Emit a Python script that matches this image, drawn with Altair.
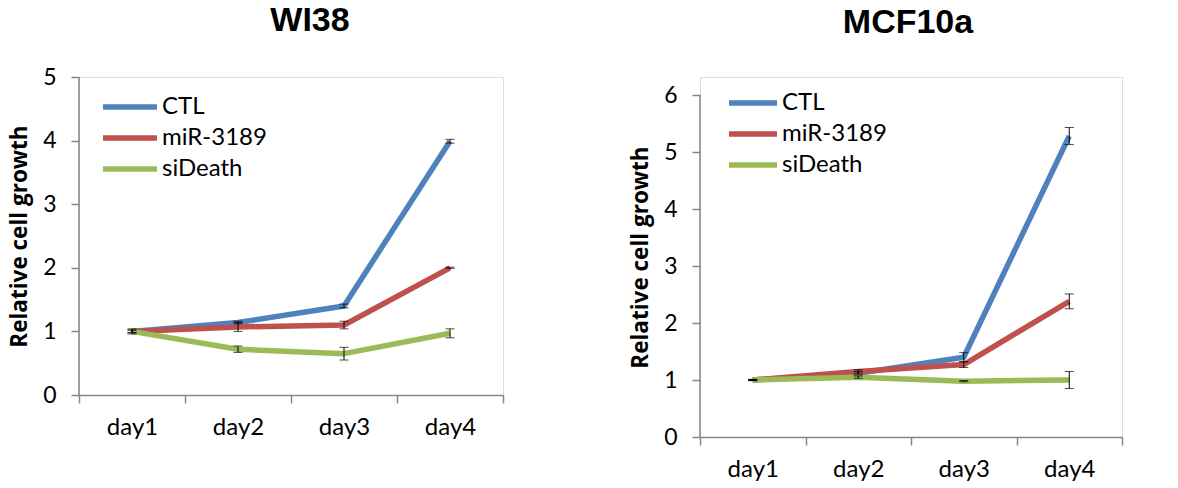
import altair as alt
import pandas as pd

days = ["day1", "day2", "day3", "day4"]
series = ["CTL", "miR-3189", "siDeath"]
colors = ["#4F81BD", "#C0504D", "#9BBB59"]

# WI38
wi38_ctl = [1.00, 1.14, 1.40, 3.99]
wi38_mir = [1.00, 1.07, 1.10, 2.00]
wi38_sid = [1.00, 0.72, 0.65, 0.97]
wi38_ctl_err = [0.02, 0.02, 0.03, 0.03]
wi38_mir_err = [0.02, 0.07, 0.06, 0.01]
wi38_sid_err = [0.04, 0.05, 0.10, 0.07]

# MCF10a
mcf_ctl = [1.00, 1.12, 1.40, 5.28]
mcf_mir = [1.00, 1.15, 1.27, 2.38]
mcf_sid = [1.00, 1.05, 0.98, 1.00]
mcf_ctl_err = [0.01, 0.03, 0.08, 0.15]
mcf_mir_err = [0.01, 0.03, 0.05, 0.13]
mcf_sid_err = [0.01, 0.02, 0.01, 0.15]


def make_df(vals, errs):
    rows = []
    for s, v, e in zip(series, vals, errs):
        for d, vv, ee in zip(days, v, e):
            rows.append({"day": d, "series": s, "value": vv, "lo": vv - ee, "hi": vv + ee})
    return pd.DataFrame(rows)


FONT = "Lato"
AXC = "#868686"


def panel(df, title, ymax, dom_max, w, h, title_offset, title_dx, leg_x, leg_y, half):
    x = alt.X("day:O", scale=alt.Scale(type="band", paddingInner=0, paddingOuter=0, domain=days),
              axis=alt.Axis(title=None, labelAngle=0, tickBand="extent", labelFont=FONT,
                            labelFontSize=24, labelColor="#000", labelPadding=12,
                            tickSize=8, tickColor=AXC, domainColor=AXC,
                            domainWidth=1.5, tickWidth=1.5))
    yscale = alt.Scale(domain=[0, dom_max], nice=False, zero=True)
    yaxis = alt.Axis(title="Relative cell growth", titleFont="Open Sans", titleFontSize=22.5,
                     titleFontWeight="bold", titleColor="#000", titlePadding=11,
                     labelFont=FONT, labelFontSize=23, labelColor="#000", labelPadding=15,
                     values=list(range(0, ymax + 1)), format="d", grid=False, labelOverlap=False,
                     tickSize=8, tickColor=AXC, domain=False, tickWidth=1.5)
    base = alt.Chart(df)
    sym_path = f"M-{half},0L{half},0"
    line = base.mark_line(strokeWidth=5.5, strokeJoin="round").encode(
        x=x,
        y=alt.Y("value:Q", scale=yscale, axis=yaxis),
        color=alt.Color("series:N", scale=alt.Scale(domain=series, range=colors),
                        legend=alt.Legend(title=None, orient="none", legendX=leg_x, legendY=leg_y,
                                          symbolType=sym_path, symbolStrokeWidth=5.5,
                                          symbolSize=900, labelFont=FONT, labelFontSize=24,
                                          labelColor="#000", rowPadding=1, padding=0,
                                          labelOffset=(half - 1) * 15 + 2)),
    )
    rule = base.mark_rule(color="black", strokeWidth=1).encode(
        x=x, y=alt.Y("lo:Q", scale=yscale), y2="hi:Q")
    cap_lo = base.mark_tick(color="black", thickness=1, size=9, orient="horizontal").encode(
        x=x, y=alt.Y("lo:Q", scale=yscale))
    cap_hi = base.mark_tick(color="black", thickness=1, size=9, orient="horizontal").encode(
        x=x, y=alt.Y("hi:Q", scale=yscale))
    yline = alt.Chart(pd.DataFrame({"y0": [0], "y1": [ymax]})).mark_rule(
        color=AXC, strokeWidth=1.5).encode(
        x=alt.value(0), y=alt.Y("y0:Q", scale=yscale), y2="y1:Q")
    return alt.layer(line, yline, rule, cap_lo, cap_hi).properties(
        width=w, height=h,
        title=alt.TitleParams(title, font="Liberation Sans", fontSize=34, fontWeight="bold",
                              color="#000", anchor="middle", frame="group",
                              offset=title_offset, dx=title_dx),
    )


left = panel(make_df([wi38_ctl, wi38_mir, wi38_sid], [wi38_ctl_err, wi38_mir_err, wi38_sid_err]),
             "WI38", 5, 5, 424, 318, 28, 19, 21 + 12, 12, 1.8)
right = panel(make_df([mcf_ctl, mcf_mir, mcf_sid], [mcf_ctl_err, mcf_mir_err, mcf_sid_err]),
              "MCF10a", 6, 6 * 360 / 342, 422, 360, 37, -3, 26 + 9, 8, 1.6)

chart = alt.hconcat(left, right, spacing=124).resolve_scale(color="independent").properties(
    padding={"left": 8, "top": 3, "right": 5, "bottom": 0}
).configure_view(stroke=None).configure(background="white")

chart.save("out.html", embed_options={"renderer": "svg", "actions": False})
